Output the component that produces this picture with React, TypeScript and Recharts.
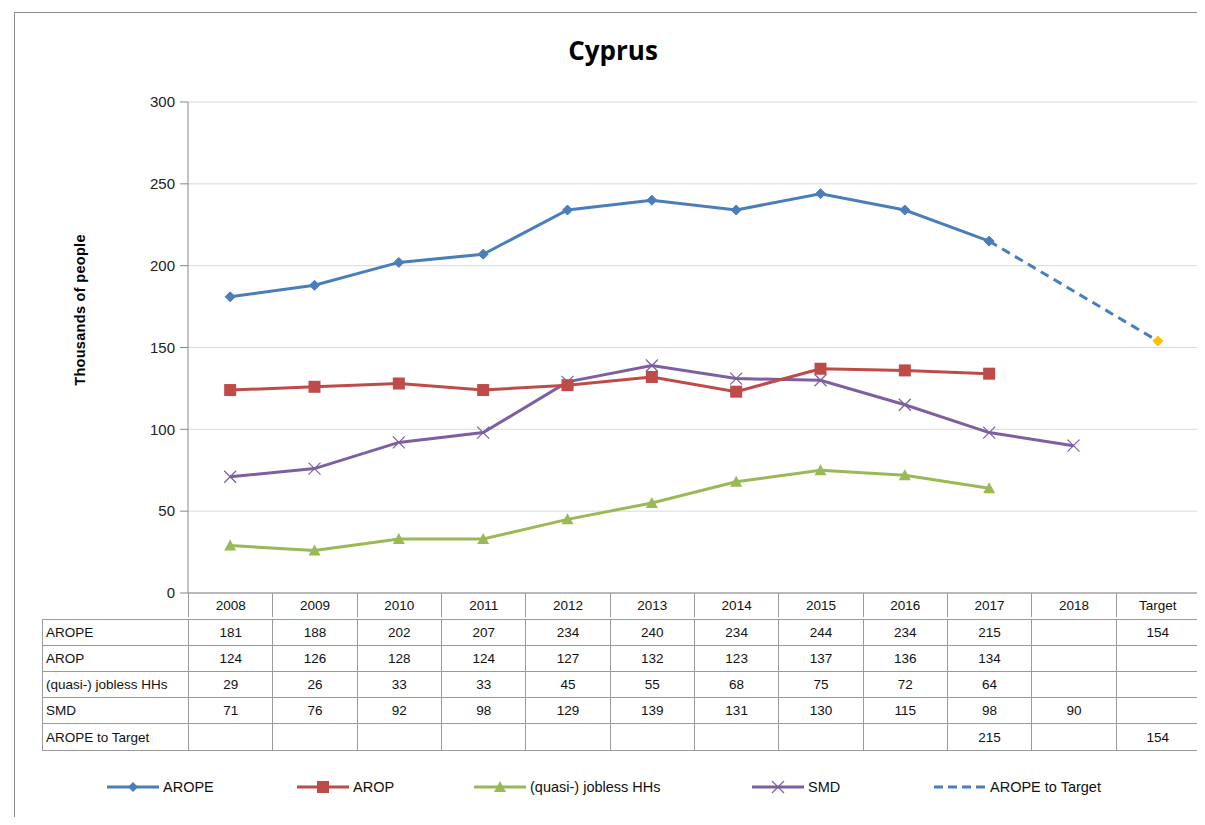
import { CartesianGrid, Line, LineChart, XAxis, YAxis } from 'recharts'

const CATEGORIES = ['2008', '2009', '2010', '2011', '2012', '2013', '2014', '2015', '2016', '2017', '2018', 'Target']
const AROPE = [181, 188, 202, 207, 234, 240, 234, 244, 234, 215, null, 154]
const AROP = [124, 126, 128, 124, 127, 132, 123, 137, 136, 134, null, null]
const JOBLESS = [29, 26, 33, 33, 45, 55, 68, 75, 72, 64, null, null]
const SMD = [71, 76, 92, 98, 129, 139, 131, 130, 115, 98, 90, null]
const AROPE_TO_TARGET = [null, null, null, null, null, null, null, null, null, 215, null, 154]
const Y_TICKS = [0, 50, 100, 150, 200, 250, 300]

const FONT = '"Liberation Sans", Arial, sans-serif'
const BLUE = '#4a7ebb'
const RED = '#be4b48'
const GREEN = '#98b954'
const PURPLE = '#7d5fa0'
const GOLD = '#ffc000'

const rows = CATEGORIES.map((cat, i) => ({
  cat,
  arope: AROPE[i],
  arop: AROP[i],
  jobless: JOBLESS[i],
  smd: SMD[i],
  target: AROPE_TO_TARGET[i],
}))

function empty(key: any) {
  return <g key={key} />
}

function diamondDot(props: any) {
  const { cx, cy, index, value } = props
  if (value == null || cx == null) return empty(index)
  const isTarget = CATEGORIES[index] === 'Target'
  const r = 5
  return (
    <path
      key={index}
      d={`M${cx},${cy - r} L${cx + r},${cy} L${cx},${cy + r} L${cx - r},${cy} Z`}
      fill={isTarget ? GOLD : BLUE}
      stroke={isTarget ? GOLD : BLUE}
    />
  )
}

function squareDot(props: any) {
  const { cx, cy, index, value } = props
  if (value == null || cx == null) return empty(index)
  return <rect key={index} x={cx - 6} y={cy - 6} width={12} height={12} fill={RED} />
}

function triangleDot(props: any) {
  const { cx, cy, index, value } = props
  if (value == null || cx == null) return empty(index)
  return <path key={index} d={`M${cx},${cy - 6} L${cx + 6},${cy + 5} L${cx - 6},${cy + 5} Z`} fill={GREEN} />
}

function crossDot(props: any) {
  const { cx, cy, index, value } = props
  if (value == null || cx == null) return empty(index)
  const r = 6
  return (
    <path
      key={index}
      d={`M${cx - r},${cy - r} L${cx + r},${cy + r} M${cx - r},${cy + r} L${cx + r},${cy - r}`}
      stroke={PURPLE}
      strokeWidth={1.2}
    />
  )
}

const TABLE_ROWS: { label: string; values: (number | null)[] }[] = [
  { label: 'AROPE', values: AROPE },
  { label: 'AROP', values: AROP },
  { label: '(quasi-) jobless HHs', values: JOBLESS },
  { label: 'SMD', values: SMD },
  { label: 'AROPE to Target', values: AROPE_TO_TARGET },
]

const LEGEND = [
  { label: 'AROPE', color: BLUE, left: 97, marker: 'diamond' },
  { label: 'AROP', color: RED, left: 287, marker: 'square' },
  { label: '(quasi-) jobless HHs', color: GREEN, left: 464, marker: 'triangle' },
  { label: 'SMD', color: PURPLE, left: 742, marker: 'cross' },
  { label: 'AROPE to Target', color: BLUE, left: 924, marker: 'dash' },
]

function LegendIcon({ color, marker }: { color: string; marker: string }) {
  return (
    <svg width={56} height={16} style={{ display: 'block' }}>
      {marker === 'dash' ? (
        <line x1={2} y1={8} x2={54} y2={8} stroke={color} strokeWidth={3} strokeDasharray="9 5" />
      ) : (
        <line x1={2} y1={8} x2={54} y2={8} stroke={color} strokeWidth={3} />
      )}
      {marker === 'diamond' && <path d="M28,3 L33,8 L28,13 L23,8 Z" fill={color} />}
      {marker === 'square' && <rect x={22} y={2} width={12} height={12} fill={color} />}
      {marker === 'triangle' && <path d="M28,2 L34,13 L22,13 Z" fill={color} />}
      {marker === 'cross' && <path d="M22,2 L34,14 M22,14 L34,2" stroke={color} strokeWidth={1.2} />}
    </svg>
  )
}

const COL0 = 146
const COLW = 1012 / 12
const BORDER = '1px solid #9a9a9a'

export default function App() {
  return (
    <div style={{ position: 'relative', width: 1197, height: 809, fontFamily: FONT, overflow: 'hidden' }}>
      <div
        style={{
          position: 'absolute',
          left: 6,
          top: 4,
          width: 1191,
          height: 805,
          borderLeft: '1px solid #8c8c8c',
          borderTop: '1px solid #8c8c8c',
          boxSizing: 'border-box',
        }}
      />
      <div
        style={{
          position: 'absolute',
          left: 0,
          top: 24,
          width: 1210,
          textAlign: 'center',
          fontSize: 26,
          fontWeight: 'bold',
          fontFamily: '"Open Sans", sans-serif',
        }}
      >
        Cyprus
      </div>
      <div
        style={{
          position: 'absolute',
          left: 72,
          top: 302,
          transform: 'translate(-50%, -50%) rotate(-90deg)',
          fontSize: 14.5,
          fontWeight: 'bold',
          whiteSpace: 'nowrap',
          letterSpacing: 0.3,
        }}
      >
        Thousands of people
      </div>
      <div style={{ position: 'absolute', left: 0, top: 0 }}>
        <LineChart width={1197} height={600} data={rows} margin={{ top: 94, right: 5, bottom: 0, left: 120 }}>
          <CartesianGrid vertical={false} stroke="#d9d9d9" />
          <XAxis
            dataKey="cat"
            height={15}
            tick={false}
            tickLine={false}
            axisLine={{ stroke: '#868686' }}
            padding={{ left: COLW / 2, right: COLW / 2 }}
          />
          <YAxis
            width={60}
            domain={[0, 300]}
            ticks={Y_TICKS}
            interval={0}
            tickSize={8}
            tickMargin={5}
            axisLine={{ stroke: '#868686' }}
            tickLine={{ stroke: '#868686' }}
            tick={{ fill: '#222', fontSize: 15, fontFamily: FONT }}
          />
          <Line
            dataKey="target"
            stroke={BLUE}
            strokeWidth={3}
            strokeDasharray="9 6"
            connectNulls
            dot={false}
            isAnimationActive={false}
          />
          <Line dataKey="jobless" stroke={GREEN} strokeWidth={3} dot={triangleDot} isAnimationActive={false} />
          <Line dataKey="smd" stroke={PURPLE} strokeWidth={3} dot={crossDot} isAnimationActive={false} />
          <Line dataKey="arop" stroke={RED} strokeWidth={3} dot={squareDot} isAnimationActive={false} />
          <Line dataKey="arope" stroke={BLUE} strokeWidth={3} dot={diamondDot} isAnimationActive={false} />
        </LineChart>
      </div>
      <div
        style={{
          position: 'absolute',
          left: 34,
          top: 585,
          display: 'grid',
          gridTemplateColumns: `${COL0}px repeat(12, ${COLW}px)`,
          gridAutoRows: '26px',
          fontSize: 13.5,
          color: '#111',
        }}
      >
        <div style={{ height: 24 }} />
        {CATEGORIES.map((c, i) => (
          <div
            key={c}
            style={{
              height: 24,
              borderLeft: BORDER,
              borderRight: i === CATEGORIES.length - 1 ? BORDER : undefined,
              display: 'flex',
              alignItems: 'center',
              justifyContent: 'center',
              boxSizing: 'border-box',
            }}
          >
            {c}
          </div>
        ))}
        {TABLE_ROWS.map((row, r) => [
          <div
            key={row.label}
            style={{
              borderLeft: BORDER,
              borderTop: BORDER,
              borderBottom: r === TABLE_ROWS.length - 1 ? BORDER : undefined,
              display: 'flex',
              alignItems: 'center',
              paddingLeft: 3,
              whiteSpace: 'nowrap',
              boxSizing: 'border-box',
              height: r === TABLE_ROWS.length - 1 ? 28 : 26,
            }}
          >
            {row.label}
          </div>,
          ...row.values.map((v, i) => (
            <div
              key={row.label + i}
              style={{
                borderLeft: BORDER,
                borderTop: BORDER,
                borderRight: i === row.values.length - 1 ? BORDER : undefined,
                borderBottom: r === TABLE_ROWS.length - 1 ? BORDER : undefined,
                display: 'flex',
                alignItems: 'center',
                justifyContent: 'center',
                boxSizing: 'border-box',
                height: r === TABLE_ROWS.length - 1 ? 28 : 26,
              }}
            >
              {v == null ? '' : v}
            </div>
          )),
        ])}
      </div>
      {LEGEND.map((item) => (
        <div
          key={item.label}
          style={{
            position: 'absolute',
            left: item.left,
            top: 771,
            display: 'flex',
            alignItems: 'center',
            fontSize: 14.5,
            color: '#111',
            whiteSpace: 'nowrap',
          }}
        >
          <LegendIcon color={item.color} marker={item.marker} />
          <span style={{ marginLeft: 2 }}>{item.label}</span>
        </div>
      ))}
    </div>
  )
}
